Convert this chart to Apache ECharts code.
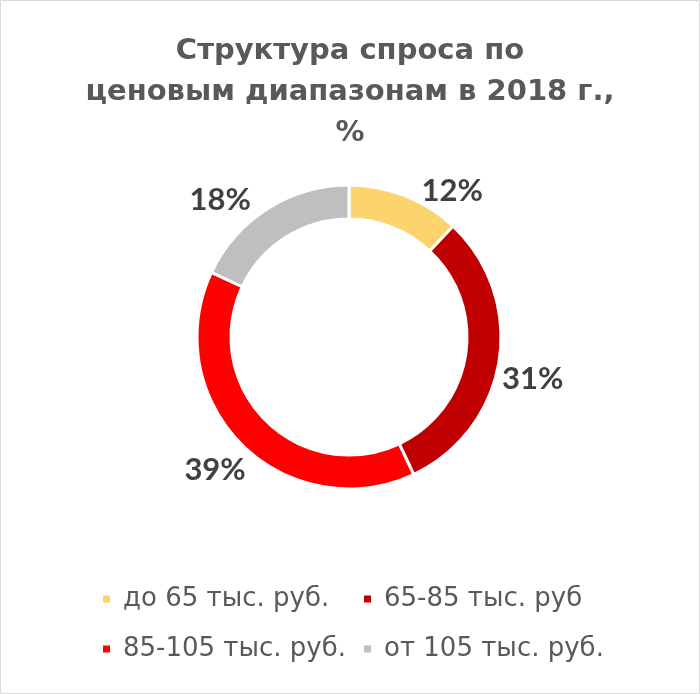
<!DOCTYPE html>
<html><head><meta charset="utf-8">
<script src="https://cdn.jsdelivr.net/npm/echarts@6/dist/echarts.min.js"></script>
<style>html,body{margin:0;padding:0;background:#fff}#c{width:700px;height:694px}</style>
</head><body><div id="c"></div>
<script>
const categories = ['до 65 тыс. руб.', '65-85 тыс. руб', '85-105 тыс. руб.', 'от 105 тыс. руб.'];
const values = [12, 31, 39, 18];
const colors = ['#FBD46D', '#C00000', '#FF0000', '#BFBFBF'];
const titleText = 'Структура спроса по\nценовым диапазонам в 2018 г.,\n%';
// label nudges (px) to mimic the original's best-fit label placement
const labelOffsets = [[34, 29], [-2, 13], [-1, 0], [-28, 22]];

const chart = echarts.init(document.getElementById('c'));
const data = categories.map((n, i) => ({ name: n, value: values[i], itemStyle: { color: colors[i] } }));
const legendPos = [[101, 584], [362, 584], [101, 634], [362, 634]];
chart.setOption({
  animation: false,
  title: {
    text: titleText, left: 'center', top: 26,
    textStyle: { fontFamily: 'DejaVu Sans', fontWeight: 'bold', fontSize: 29, lineHeight: 41, color: '#595959' }
  },
  legend: categories.map((n, i) => ({
    data: [n], left: legendPos[i][0], top: legendPos[i][1], padding: 0,
    icon: 'rect', itemWidth: 9, itemHeight: 9, itemGap: 0,
    textStyle: { fontFamily: 'DejaVu Sans', fontSize: 26, lineHeight: 30, color: '#595959', padding: [0, 0, 0, 7] }
  })),
  graphic: [{ type: 'rect', shape: { x: 0.5, y: 0.5, width: 699, height: 693 }, style: { fill: 'none', stroke: '#D9D9D9', lineWidth: 1 }, silent: true }],
  series: [
    {
      type: 'pie', center: [349, 337], radius: [118, 152], startAngle: 90, clockwise: true,
      itemStyle: { borderColor: '#fff', borderWidth: 3 },
      label: { show: false }, labelLine: { show: false },
      data: data
    },
    {
      type: 'pie', center: [349, 337], radius: [170, 200], startAngle: 90, clockwise: true, silent: true,
      itemStyle: { color: 'rgba(0,0,0,0)' },
      label: { show: true, position: 'inside', formatter: '{c}%', fontFamily: 'Lato', fontWeight: 'bold', fontSize: 31, color: '#404040' },
      labelLine: { show: false },
      data: categories.map((n, i) => ({ name: n + ' ', value: values[i], label: { offset: labelOffsets[i] } }))
    }
  ]
});
</script></body></html>
